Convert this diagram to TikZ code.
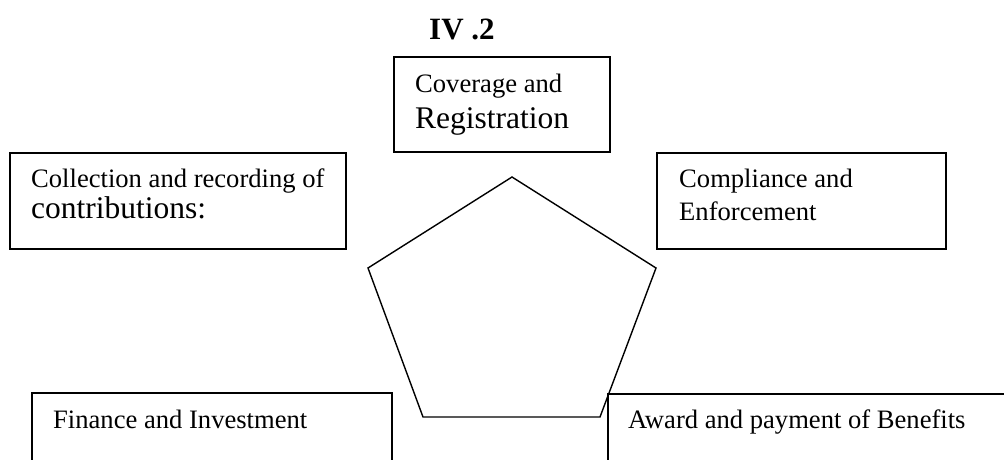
\documentclass[tikz,border=0pt]{standalone}
\usepackage{fontspec}
\setmainfont{Liberation Serif}
\tikzset{
  boxline/.style={draw=black, line width=1.8pt},
  framebox/.style={boxline, rectangle, inner sep=0pt, fill=none},
  label/.style={anchor=base west, inner sep=0pt, font=\fontsize{26.6}{30.6}\selectfont},
  biglabel/.style={anchor=base west, inner sep=0pt, font=\fontsize{31.5}{36}\selectfont},
  heading/.style={anchor=base west, inner sep=0pt, font=\fontsize{31}{36}\selectfont\bfseries},
  penta/.style={draw=black, line width=1.4pt, line join=miter}
}
\begin{document}
\begin{tikzpicture}[x=1pt,y=-1pt]
  \clip (0,0) rectangle (1004,459);
  \fill[white] (0,0) rectangle (1004,459);

  % heading
  \node[heading] (title) at (429,39) {IV .2};

  % central pentagon
  \coordinate (p1) at (512,177);
  \coordinate (p2) at (656,268);
  \coordinate (p3) at (600,417);
  \coordinate (p4) at (423,417);
  \coordinate (p5) at (368,268);
  \draw[penta] (p1) -- (p2) -- (p3) -- (p4) -- (p5) -- cycle;

  % upper boxes
  \node[framebox, minimum width=216pt, minimum height=95pt] (cov) at (502,104.5) {};
  \node[label] (covA) at (415,92) {Coverage and};
  \node[biglabel] (covB) at (415,128) {Registration};

  \node[framebox, minimum width=336pt, minimum height=96pt] (col) at (178,201) {};
  \node[label] (colA) at (31,187) {Collection and recording of};
  \node[biglabel] (colB) at (31,218) {contributions:};

  \node[framebox, minimum width=289pt, minimum height=96pt] (comp) at (801.5,201) {};
  \node[label] (compA) at (679,187) {Compliance and};
  \node[label] (compB) at (679,220) {Enforcement};

  % lower boxes, running off the bottom edge
  \node[framebox, minimum width=360pt, minimum height=120pt] (fin) at (212,453) {};
  \node[label] (finA) at (53,428) {Finance and Investment};

  \node[framebox, minimum width=440pt, minimum height=120pt] (award) at (828,454) {};
  \node[label] (awardA) at (628,428) {Award and payment of Benefits};
\end{tikzpicture}
\end{document}
